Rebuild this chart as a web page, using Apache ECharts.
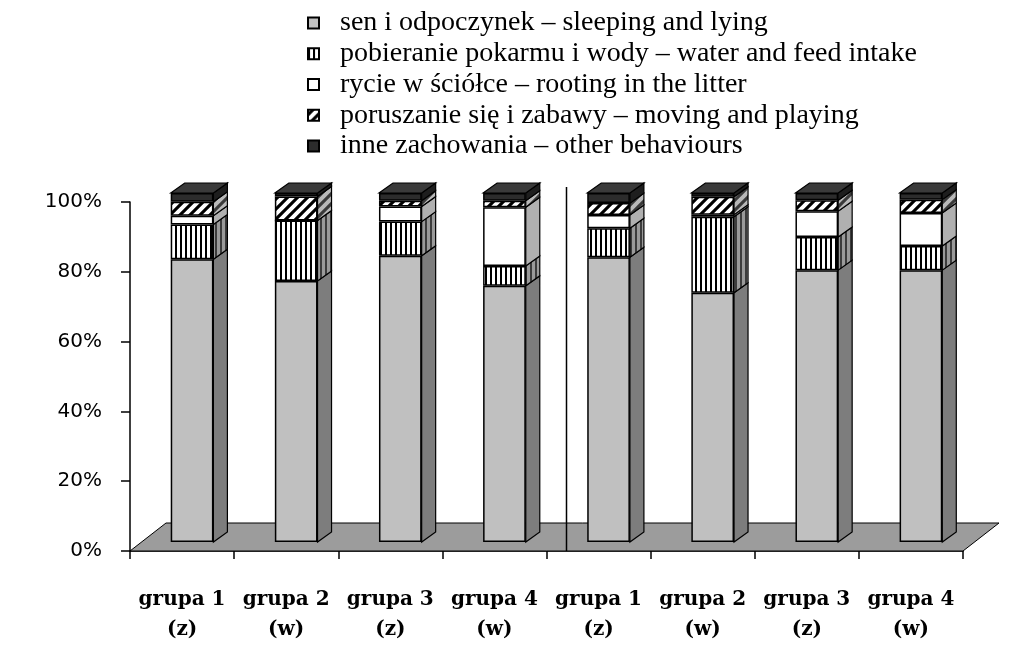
<!DOCTYPE html>
<html lang="pl">
<head>
    <meta charset="UTF-8">
    <title>Zachowanie – behaviour</title>
    <script src="https://cdn.jsdelivr.net/npm/echarts@6/dist/echarts.min.js"></script>
    <style>
        html, body { margin: 0; padding: 0; background: #fff; }
        #main { width: 1023px; height: 653px; }
    </style>
</head>
<body>
<div id="main"></div>
<script type="text/javascript">
    // categories (two blocks of four groups)
    var groupNames = ['grupa 1', 'grupa 2', 'grupa 3', 'grupa 4', 'grupa 1', 'grupa 2', 'grupa 3', 'grupa 4'];
    var groupTypes = ['(z)', '(w)', '(z)', '(w)', '(z)', '(w)', '(z)', '(w)'];

    var seriesNames = [
        'sen i odpoczynek – sleeping and lying',
        'pobieranie pokarmu i wody – water and feed intake',
        'rycie w ściółce – rooting in the litter',
        'poruszanie się i zabawy – moving and playing',
        'inne zachowania – other behaviours'
    ];

    // % of time
    var sleeping = [81.0, 74.8, 82.0, 73.4, 81.6, 71.4, 77.9, 77.9];
    var feeding  = [10.0, 17.3,  9.8,  5.7,  8.3, 21.8,  9.5,  6.9];
    var rooting  = [ 2.5,  0.0,  4.3, 16.8,  3.8,  0.6,  7.4,  9.5];
    var moving   = [ 4.0,  6.9,  1.7,  1.9,  3.4,  5.1,  3.1,  3.8];
    var other    = [ 2.5,  1.0,  2.2,  2.2,  2.9,  1.1,  2.1,  1.9];
    var yTicks   = [0, 20, 40, 60, 80, 100];

    var values = [sleeping, feeding, rooting, moving, other];

    // little canvas tiles for the hatched fills
    function stripes(bg, fg, period, lw) {
        var c = document.createElement('canvas');
        c.width = period; c.height = 10;
        var ctx = c.getContext('2d');
        ctx.fillStyle = bg; ctx.fillRect(0, 0, period, 10);
        ctx.fillStyle = fg; ctx.fillRect(0, 0, lw, 10);
        return { image: c, repeat: 'repeat' };
    }
    function diag(bg, fg) {
        var c = document.createElement('canvas');
        c.width = 10; c.height = 10;
        var ctx = c.getContext('2d');
        ctx.fillStyle = bg; ctx.fillRect(0, 0, 10, 10);
        ctx.strokeStyle = fg; ctx.lineWidth = 4;
        ctx.beginPath();
        for (var k = -10; k <= 20; k += 10) {
            ctx.moveTo(k - 2, 12);
            ctx.lineTo(k + 12, -2);
        }
        ctx.stroke();
        return { image: c, repeat: 'repeat' };
    }

    var frontFills = ['#c0c0c0', stripes('#ffffff', '#000000', 5, 2), '#ffffff', diag('#000000', '#ffffff'), '#2c2c2c'];
    var sideFills = ['#7d7d7d', stripes('#9a9a9a', '#3c3c3c', 5, 2), '#b0b0b0', diag('#3a3a3a', '#b8b8b8'), '#1e1e1e'];
    var topFill = '#3a3a3a';

    var BAR_RATIO = 0.41;
    var DX = 14, DY = 10;        // bar depth
    var FLOOR_DX = 36, FLOOR_DY = 28;

    var myChart = echarts.init(document.getElementById('main'));

    var barSeries = seriesNames.map(function (name, j) {
        return {
            name: name,
            type: 'bar',
            stack: 'all',
            xAxisIndex: 1,
            yAxisIndex: 1,
            barWidth: (BAR_RATIO * 100) + '%',
            itemStyle: { color: frontFills[j], borderColor: '#000', borderWidth: 1.5 },
            data: values[j],
            z: 3
        };
    });

    function renderSides(params, api) {
        var i = api.value(0);
        var w = api.size([1, 0])[0] * BAR_RATIO;
        var cx = api.coord([i, 0])[0];
        var xL = cx - w / 2, xR = cx + w / 2;
        var children = [];
        var cum = 0;
        for (var j = 0; j < values.length; j++) {
            var v = values[j][i];
            if (v <= 0) continue;
            var y0 = api.coord([i, cum])[1];
            cum += v;
            var y1 = api.coord([i, cum])[1];
            children.push({
                type: 'polygon',
                shape: { points: [[xR, y1], [xR + DX, y1 - DY], [xR + DX, y0 - DY], [xR, y0]] },
                style: { fill: sideFills[j], stroke: '#000', lineWidth: 1.2 }
            });
        }
        var yt = api.coord([i, cum])[1];
        children.push({
            type: 'polygon',
            shape: { points: [[xL, yt], [xL + DX, yt - DY], [xR + DX, yt - DY], [xR, yt]] },
            style: { fill: topFill, stroke: '#000', lineWidth: 1.2 }
        });
        return { type: 'group', children: children };
    }

    function renderFloor(params, api) {
        var cs = params.coordSys;
        var yb = cs.y + cs.height;
        var sepX = (api.coord([3, 0])[0] + api.coord([4, 0])[0]) / 2 + 20;
        return {
            type: 'group',
            children: [{
                type: 'polygon',
                shape: { points: [[cs.x, yb], [cs.x + cs.width, yb], [cs.x + cs.width + FLOOR_DX, yb - FLOOR_DY], [cs.x + FLOOR_DX, yb - FLOOR_DY]] },
                style: { fill: '#9c9c9c', stroke: '#000', lineWidth: 1 }
            }, {
                type: 'line',
                shape: { x1: sepX, y1: yb, x2: sepX, y2: cs.y - 15 },
                style: { stroke: '#000', lineWidth: 1.5 }
            }]
        };
    }

    var catIdx = groupNames.map(function (n, i) { return [i]; });
    var catLabels = groupNames.map(function (n, i) { return n + '\n' + groupTypes[i]; });

    var option = {
        backgroundColor: '#fff',
        animation: false,
        legend: {
            orient: 'vertical',
            left: 302,
            top: 4,
            itemWidth: 11,
            itemHeight: 11,
            itemGap: 2.75,
            icon: 'rect',
            selectedMode: false,
            data: seriesNames,
            textStyle: {
                fontFamily: 'Liberation Serif',
                fontSize: 28,
                lineHeight: 28,
                color: '#000',
                padding: [0, 0, 0, 16]
            }
        },
        grid: [
            { left: 130, right: 60, top: 202, bottom: 102 },
            { left: 140, right: 50, top: 193, bottom: 111 }
        ],
        xAxis: [{
            type: 'category',
            gridIndex: 0,
            data: catLabels,
            axisLine: { lineStyle: { color: '#000', width: 1.5 } },
            axisTick: { show: true, length: 8, lineStyle: { color: '#000', width: 1.5 } },
            axisLabel: {
                interval: 0,
                margin: 34,
                color: '#000',
                fontFamily: 'DejaVu Serif',
                fontWeight: 'bold',
                fontSize: 20,
                lineHeight: 30
            }
        }, {
            type: 'category',
            gridIndex: 1,
            data: catLabels,
            show: false
        }],
        yAxis: [{
            type: 'value',
            gridIndex: 0,
            min: yTicks[0],
            max: yTicks[yTicks.length - 1],
            interval: 20,
            splitLine: { show: false },
            axisLine: { show: true, lineStyle: { color: '#000', width: 1.5 } },
            axisTick: { show: true, length: 9, lineStyle: { color: '#000', width: 1.5 } },
            axisLabel: {
                formatter: '{value}%',
                margin: 28,
                color: '#000',
                fontFamily: 'DejaVu Sans',
                fontSize: 20
            }
        }, {
            type: 'value',
            gridIndex: 1,
            min: 0,
            max: 100,
            show: false,
            splitLine: { show: false }
        }],
        series: [{
            type: 'custom',
            name: 'floor',
            xAxisIndex: 0,
            yAxisIndex: 0,
            renderItem: renderFloor,
            data: [[0]],
            clip: false,
            silent: true,
            z: 1
        }].concat(barSeries).concat([{
            type: 'custom',
            name: 'sides',
            xAxisIndex: 1,
            yAxisIndex: 1,
            renderItem: renderSides,
            data: catIdx,
            clip: false,
            silent: true,
            z: 3
        }])
    };

    myChart.setOption(option);
</script>
</body>
</html>
